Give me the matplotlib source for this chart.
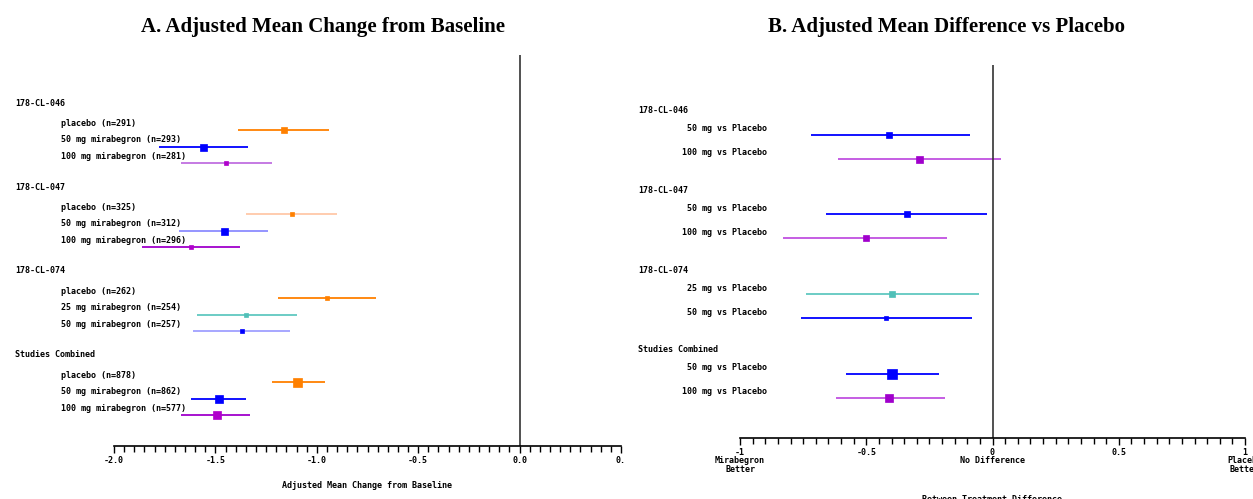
import numpy as np
import matplotlib.pyplot as plt
from matplotlib.ticker import MultipleLocator, FixedLocator
from matplotlib.transforms import blended_transform_factory

MONO = 'DejaVu Sans Mono'
FS = 6

# ---- panel A data: adjusted mean change from baseline ----
studies = ["178-CL-046", "178-CL-047", "178-CL-074", "Studies Combined"]
a_labels = [
    ["placebo (n=291)", "50 mg mirabegron (n=293)", "100 mg mirabegron (n=281)"],
    ["placebo (n=325)", "50 mg mirabegron (n=312)", "100 mg mirabegron (n=296)"],
    ["placebo (n=262)", "25 mg mirabegron (n=254)", "50 mg mirabegron (n=257)"],
    ["placebo (n=878)", "50 mg mirabegron (n=862)", "100 mg mirabegron (n=577)"],
]
a_est = [[-1.16, -1.56, -1.45], [-1.12, -1.46, -1.62], [-0.95, -1.35, -1.37], [-1.10, -1.48, -1.49]]
a_lo = [[-1.39, -1.78, -1.67], [-1.35, -1.68, -1.86], [-1.19, -1.59, -1.61], [-1.22, -1.62, -1.67]]
a_hi = [[-0.94, -1.34, -1.22], [-0.90, -1.24, -1.38], [-0.71, -1.10, -1.13], [-0.96, -1.35, -1.33]]

# ---- panel B data: difference vs placebo ----
b_labels = [
    ["50 mg vs Placebo", "100 mg vs Placebo"],
    ["50 mg vs Placebo", "100 mg vs Placebo"],
    ["25 mg vs Placebo", "50 mg vs Placebo"],
    ["50 mg vs Placebo", "100 mg vs Placebo"],
]
b_est = [[-0.41, -0.29], [-0.34, -0.50], [-0.40, -0.42], [-0.40, -0.41]]
b_lo = [[-0.72, -0.61], [-0.66, -0.83], [-0.74, -0.76], [-0.58, -0.62]]
b_hi = [[-0.09, 0.035], [-0.02, -0.18], [-0.055, -0.08], [-0.21, -0.19]]

# styles: (line colour, marker colour, marker size in px)
a_style = [
    [("#ff8000", "#ff8000", 6), ("#0000ff", "#0000ff", 7), ("#c070e0", "#b000cc", 5)],
    [("#ffc8a8", "#ff8000", 4), ("#8c8cff", "#0000ff", 7), ("#a000cc", "#b000cc", 5)],
    [("#ff8000", "#ff8000", 4), ("#60c8c0", "#50c0b8", 5), ("#a0a0ff", "#0000ff", 4)],
    [("#ff8000", "#ff8000", 9), ("#0000ff", "#0000ff", 8), ("#a000cc", "#b000cc", 8)],
]
b_style = [
    [("#0000ff", "#0000ff", 6), ("#c050e0", "#a000cc", 7)],
    [("#0000ff", "#0000ff", 6), ("#c050e0", "#a000cc", 6)],
    [("#60c8c0", "#50c0b8", 6), ("#0000ff", "#0000ff", 5)],
    [("#0000ff", "#0000ff", 10), ("#c050e0", "#a000cc", 8)],
]

fig = plt.figure(figsize=(12.53, 4.99), dpi=100)
W, H = 1253, 499


def forest(ax, est, lo, hi, labels, style, period, offsets, head_x, lab_x, lab_ha, lab_dy):
    tr = blended_transform_factory(fig.transFigure, ax.transData)
    for g, name in enumerate(studies):
        y0 = period * g
        ax.text(head_x, y0, name, transform=tr, ha='left', va='center',
                fontsize=FS, family=MONO, fontweight='bold')
        for i in range(len(est[g])):
            y = y0 + offsets[i]
            lc, mc, ms = style[g][i]
            ax.plot([lo[g][i], hi[g][i]], [y, y], color=lc, lw=1.3, solid_capstyle='butt')
            ax.plot(est[g][i], y, marker='s', ms=ms * 0.72, color=mc, mec=mc, mew=0.5)
            ax.text(lab_x, y - lab_dy, labels[g][i], transform=tr, ha=lab_ha, va='center',
                    fontsize=FS, family=MONO, fontweight='bold')
    for s in ['top', 'right', 'left']:
        ax.spines[s].set_visible(False)
    ax.spines['bottom'].set_linewidth(1.2)
    ax.set_yticks([])
    ax.axvline(0, color='#333333', lw=1.2)
    ax.xaxis.set_minor_locator(MultipleLocator(0.05))
    ax.tick_params(axis='x', which='major', direction='out', length=5, width=1, pad=2,
                   labelsize=FS)
    ax.tick_params(axis='x', which='minor', direction='out', length=4, width=1)
    for t in ax.get_xticklabels():
        t.set_family(MONO)
        t.set_fontweight('bold')


# panel A
axA = fig.add_axes([114 / W, 1 - 446 / H, 507 / W, 391 / H])
axA.set_xlim(-2.0, 0.5)
axA.set_ylim(20.42, -2.86)
axA.xaxis.set_major_locator(FixedLocator([-2.0, -1.5, -1.0, -0.5, 0.0, 0.5]))
axA.set_xticklabels(["-2.0", "-1.5", "-1.0", "-0.5", "0.0", "0."])
forest(axA, a_est, a_lo, a_hi, a_labels, a_style, 5, [1.6, 2.6, 3.6],
       15 / W, 61 / W, 'left', 0.4)
axA.set_xlabel("Adjusted Mean Change from Baseline", fontsize=FS, family=MONO, fontweight='bold')
axA.xaxis.set_label_coords(0.5, -0.10)
axA.xaxis.label.set_va('center')

# panel B
axB = fig.add_axes([740 / W, 1 - 438 / H, 505 / W, 373 / H])
axB.set_xlim(-1, 1)
axB.set_ylim(16.43, -2.31)
axB.xaxis.set_major_locator(FixedLocator([-1, -0.5, 0, 0.5, 1]))
axB.set_xticklabels(["-1\nMirabegron\nBetter", "-0.5", "0\nNo Difference", "0.5",
                     "1\nPlacebo\nBetter"], linespacing=0.95)
forest(axB, b_est, b_lo, b_hi, b_labels, b_style, 4, [1.2, 2.4],
       638 / W, 767 / W, 'right', 0.3)
axB.set_xlabel("Between-Treatment Difference", fontsize=FS, family=MONO, fontweight='bold')
axB.xaxis.set_label_coords(0.5, -0.166)
axB.xaxis.label.set_va('center')

fig.text(323 / W, 1 - 27 / H, "A. Adjusted Mean Change from Baseline", ha='center', va='center',
         fontsize=15, family='Liberation Serif', fontweight='bold')
fig.text(946 / W, 1 - 27 / H, "B. Adjusted Mean Difference vs Placebo", ha='center', va='center',
         fontsize=15, family='Liberation Serif', fontweight='bold')

fig.savefig("out.png", dpi=100)
